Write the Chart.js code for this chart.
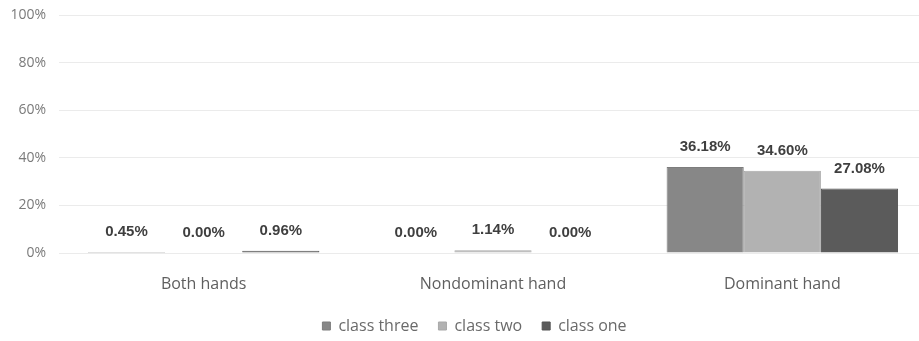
<!DOCTYPE html>
<html>
<head>
<meta charset="utf-8">
<script src="https://cdn.jsdelivr.net/npm/chart.js@4/dist/chart.umd.min.js"></script>
<style>
  html, body { margin: 0; padding: 0; background: #ffffff; overflow: hidden; }
  #wrap { position: absolute; left: 0; top: 0; width: 927px; height: 341px; }
</style>
</head>
<body>
<div id="wrap"><canvas id="c"></canvas></div>
<script>
// Hand usage by class (percent of each class)
const categories = ['Both hands', 'Nondominant hand', 'Dominant hand'];
const classThree = [0.45, 0.00, 36.18];
const classTwo   = [0.00, 1.14, 34.60];
const classOne   = [0.96, 0.00, 27.08];
const seriesNames = ['class three', 'class two', 'class one'];
const yTicks = [0, 20, 40, 60, 80, 100];

// Percentage labels above each bar
const valueLabels = {
  id: 'valueLabels',
  afterDatasetsDraw(chart) {
    const ctx = chart.ctx;
    ctx.save();
    ctx.font = 'bold 15px "Liberation Sans", Arial, sans-serif';
    ctx.fillStyle = '#3f3f3f';
    ctx.textAlign = 'center';
    ctx.textBaseline = 'middle';
    chart.data.datasets.forEach((ds, i) => {
      const meta = chart.getDatasetMeta(i);
      meta.data.forEach((bar, j) => {
        const v = ds.data[j];
        ctx.fillText(v.toFixed(2) + '%', bar.x, bar.y - 20);
      });
    });
    ctx.restore();
  }
};

// Nudge the legend row a little to the right
const legendOffset = {
  id: 'legendOffset',
  afterLayout(chart) {
    if (chart.legend) {
      chart.legend.left += 11;
      chart.legend.right += 11;
    }
  }
};

new Chart(document.getElementById('c'), {
  type: 'bar',
  data: {
    labels: categories,
    datasets: [
      { label: seriesNames[0], data: classThree, backgroundColor: '#878787', borderColor: '#7d7d7d', borderWidth: 1 },
      { label: seriesNames[1], data: classTwo,   backgroundColor: '#b2b2b2', borderColor: '#a8a8a8', borderWidth: 1 },
      { label: seriesNames[2], data: classOne,   backgroundColor: '#5b5b5b', borderColor: '#525252', borderWidth: 1 }
    ]
  },
  options: {
    responsive: true,
    maintainAspectRatio: false,
    animation: false,
    layout: { padding: { top: 15, left: 0, right: 0, bottom: -3 } },
    datasets: { bar: { categoryPercentage: 0.8, barPercentage: 1.0 } },
    scales: {
      x: {
        grid: { display: false },
        border: { display: false },
        ticks: {
          color: '#5f5f5f',
          font: { family: '"Open Sans", sans-serif', size: 16 },
          padding: 14
        },
        afterFit(scale) { scale.height = 45; }
      },
      y: {
        min: 0,
        max: 100,
        afterBuildTicks(scale) { scale.ticks = yTicks.map(v => ({ value: v })); },
        grid: { color: '#ebebeb', lineWidth: 1, drawTicks: false },
        border: { display: false },
        ticks: {
          color: '#7a7a7a',
          font: { family: '"Open Sans", sans-serif', size: 14 },
          padding: 13,
          callback: v => v + '%'
        },
        afterFit(scale) {
          scale.width = 59;
          scale.paddingTop = 0;
          scale.paddingBottom = 0;
        }
      }
    },
    plugins: {
      tooltip: { enabled: false },
      legend: {
        position: 'bottom',
        labels: {
          boxWidth: 8,
          boxHeight: 8,
          padding: 20,
          color: '#6a6a6a',
          font: { family: '"Open Sans", sans-serif', size: 16 }
        }
      }
    }
  },
  plugins: [valueLabels, legendOffset]
});
</script>
</body>
</html>
